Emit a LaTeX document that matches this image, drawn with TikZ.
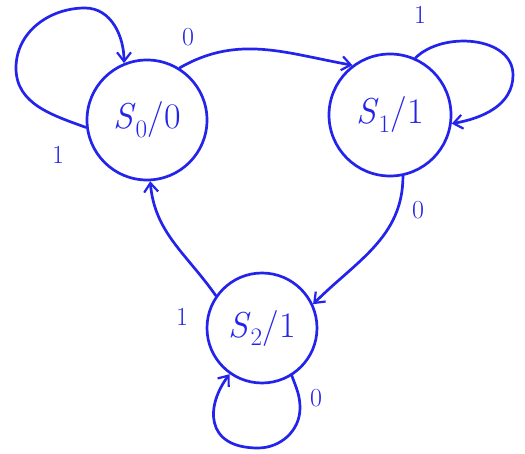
\documentclass[tikz,border=0pt]{standalone}
\usetikzlibrary{arrows.meta}
\definecolor{handblue}{RGB}{35,35,235}
\begin{document}
\begin{tikzpicture}[x=1pt,y=1pt,
  every path/.style={line width=2.7pt, line cap=round, line join=round},
  state/.style={circle, draw=handblue, text=handblue, inner sep=0pt, font=\fontsize{36}{38}\selectfont},
  edge/.style={draw=handblue, -{Straight Barb[length=9pt,width=14pt,line width=2.2pt]}},
  lbl/.style={text=handblue, font=\fontsize{26}{28}\selectfont}]
\useasboundingbox (0,0) rectangle (525,453);
\node[state, minimum size=120pt] (s0) at (147,333) {\textit{S}\textsubscript{0}/0};
\node[state, minimum size=122pt] (s1) at (390,338) {\textit{S}\textsubscript{1}/1};
\node[state, minimum size=110pt] (s2) at (262,125) {\textit{S}\textsubscript{2}/1};
\coordinate (b2) at (258,5);
% S0 self loop
\draw[edge] (s0.187) to[out=160,in=270] (16,385) to[out=90,in=180] (85,445) to[out=0,in=90] (s0.112);
% S0 -> S1
\draw[edge] (s0.58) to[out=30,in=170] (s1.127);
% S1 self loop
\draw[edge] (s1.66) to[out=45,in=90] (513,378) to[out=270,in=10] (s1.-8);
% S1 -> S2
\draw[edge] (s1.-78) to[out=-90,in=45] (s2.25);
% S2 -> S0
\draw[edge] (s2.145) to[out=125,in=-85] (s0.-87);
% S2 self loop
\draw[edge] (s2.-58) to[out=-70,in=90] (300,45) to[out=270,in=0] (b2) .. controls (204,5) and (206,48) .. (s2.-125);
% labels
\node[lbl] (l1) at (188,416) {0};
\node[lbl] (l2) at (58,298) {1};
\node[lbl] (l3) at (420,438) {1};
\node[lbl] (l4) at (418,243) {0};
\node[lbl] (l5) at (182,136) {1};
\node[lbl] (l6) at (316,55) {0};
\end{tikzpicture}
\end{document}
